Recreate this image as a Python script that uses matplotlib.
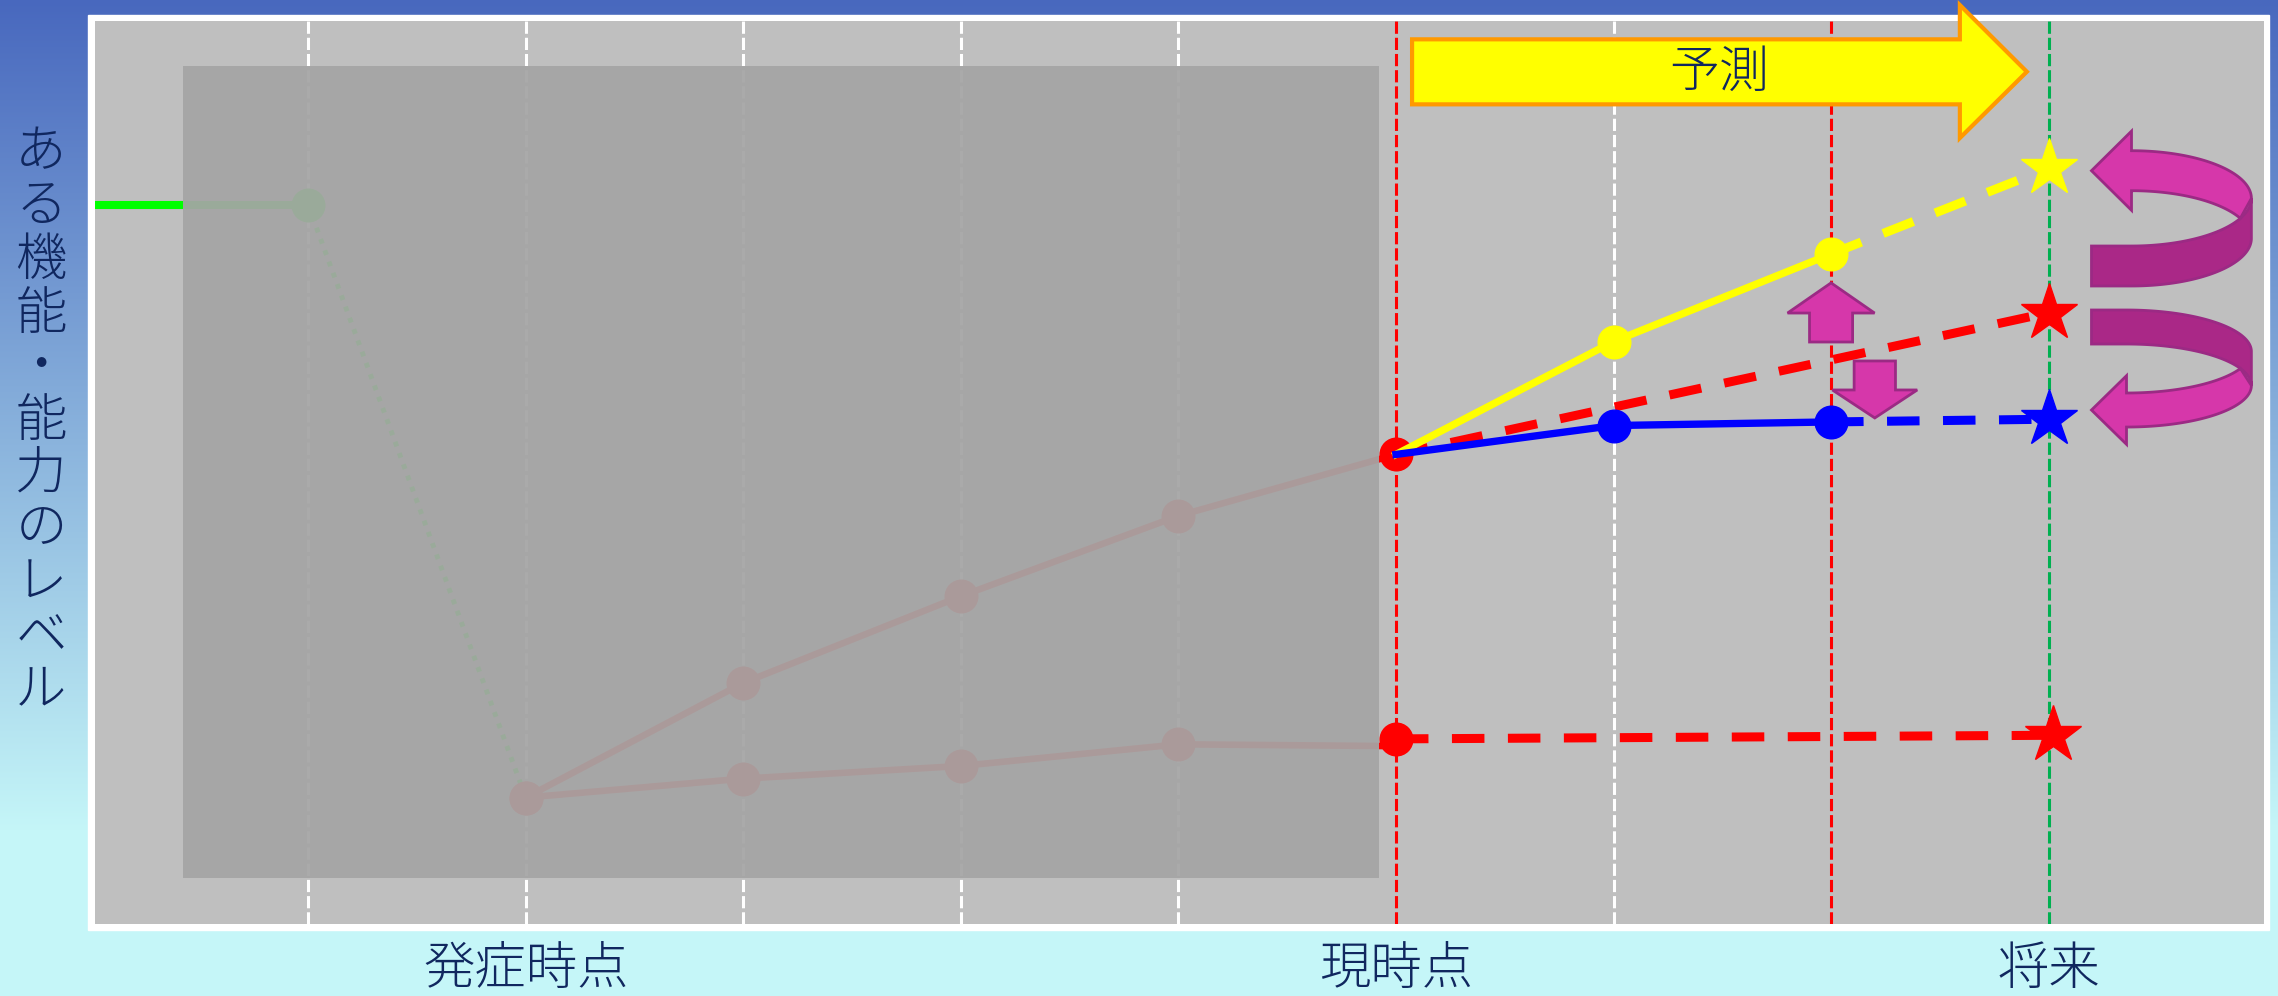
import numpy as np
import matplotlib
matplotlib.use('Agg')
import matplotlib.pyplot as plt
from matplotlib.patches import Polygon, Rectangle

plt.rcParams['font.family'] = ['Noto Sans CJK JP', 'DejaVu Sans']

NAVY = '#10275f'
PINK = '#d637aa'
PINK_DARK = '#aa2887'
PINK_EDGE = '#9b2a84'

# ---- data (level of function, 0-100) ----
stage_x = [1, 2, 3, 4, 5, 6, 7, 8, 9]
grid_colors = ['white', 'white', 'white', 'white', 'white', 'red', 'white', 'red', '#00b050']
tick_pos = [2, 6, 9]
tick_labels = ['発症時点', '現時点', '将来']
ylabel = 'ある機能・能力のレベル'

before_x = [0.02, 1]
before_y = [79.6, 79.6]
drop_x = [1, 2]
drop_y = [79.6, 14.0]
good_past_x = [2, 3, 4, 5, 6]
good_past_y = [14.0, 26.7, 36.3, 45.2, 52.0]
poor_past_x = [2, 3, 4, 5, 6]
poor_past_y = [14.0, 16.1, 17.5, 19.9, 19.7]

now_x = 6
now_good = 52.0
now_poor = 20.5
yellow_x = [6, 7, 8]
yellow_y = [52.0, 64.5, 74.2]
blue_x = [6, 7, 8]
blue_y = [52.0, 55.2, 55.6]
future_x = 9
yellow_star = 83.7
red_star_up = 67.7
blue_star = 55.9
red_star_low = 20.9

W, H = 2278, 996
fig = plt.figure(figsize=(W / 100, H / 100), dpi=100)

# background gradient + white frame
bg = fig.add_axes([0, 0, 1, 1])
top_c = np.array([72, 104, 190]) / 255
bot_c = np.array([197, 246, 248]) / 255
t = np.clip(np.arange(H) / 830, 0, 1)[:, None]
grad = top_c + (bot_c - top_c) * t
bg.imshow(np.repeat(grad[:, None, :], 2, axis=1), aspect='auto', extent=(0, W, H, 0))
bg.set_xlim(0, W)
bg.set_ylim(H, 0)
bg.axis('off')
bg.add_patch(Rectangle((88, 15), 2181, 915, color='white'))

ax = fig.add_axes([95 / W, (H - 924) / H, (2264 - 95) / W, (924 - 21) / H])
ax.set_facecolor('#bfbfbf')
ax.set_xlim(0.02, 9.99)
ax.set_ylim(0, 100)
for s in ax.spines.values():
    s.set_visible(False)
ax.set_yticks([])
ax.set_xticks(tick_pos, tick_labels, fontsize=37, color=NAVY, fontweight='light')
ax.tick_params(axis='x', length=0, pad=14)

# vertical dashed guides
for x, c in zip(stage_x, grid_colors):
    ax.axvline(x, color=c, lw=2.2, dashes=(4, 1.3), zorder=1)

# past course (later shaded)
ax.plot(before_x, before_y, color='#00ff00', lw=5.8, zorder=2, solid_capstyle='butt')
ax.plot([1], [before_y[1]], 'o', color='#00ff00', ms=23.5, zorder=2)
ax.plot(drop_x, drop_y, color='#00ff00', lw=3.6, dashes=(1, 1.4), zorder=2)
ax.plot(good_past_x, good_past_y, color='red', lw=4.8, marker='o', ms=23.5,
        markevery=[0, 1, 2, 3], zorder=2)
ax.plot(poor_past_x, poor_past_y, color='red', lw=4.8, marker='o', ms=23.5,
        markevery=[0, 1, 2, 3], zorder=2)

# shading box over the past
ax.add_patch(Rectangle((0.426, 5.1), 5.922 - 0.426, 95.0 - 5.1, facecolor='#a5a5a5',
                       alpha=0.94, edgecolor='none', zorder=3))

# current points and predictions
ax.plot([now_x, now_x], [now_good, now_poor], 'o', color='red', ms=23.5, ls='none', zorder=4)
ax.plot([now_x, future_x], [now_good, red_star_up], color='red', lw=6.5, dashes=(3.6, 2.6), zorder=5)
ax.plot([now_x, future_x + 0.02], [now_poor, red_star_low], color='red', lw=6.5,
        dashes=(3.6, 2.6), zorder=5)
ax.plot(yellow_x, yellow_y, color='yellow', lw=5.3, marker='o', ms=23.5, markevery=[1, 2], zorder=6)
ax.plot([yellow_x[-1], future_x], [yellow_y[-1], yellow_star], color='yellow', lw=6.5,
        dashes=(3.6, 2.6), zorder=6)
ax.plot(blue_x, blue_y, color='blue', lw=5.3, marker='o', ms=23.5, markevery=[1, 2], zorder=7)
ax.plot([blue_x[-1], future_x], [blue_y[-1], blue_star], color='blue', lw=6.5,
        dashes=(3.6, 2.6), zorder=7)
ax.plot([future_x], [yellow_star], '*', color='yellow', ms=43, zorder=8)
ax.plot([future_x], [red_star_up], '*', color='red', ms=43, zorder=8)
ax.plot([future_x], [blue_star], '*', color='blue', ms=43, zorder=8)
ax.plot([future_x + 0.02], [red_star_low], '*', color='red', ms=43, zorder=8)

# big "予測" arrow
pred = [(6.074, 97.97), (8.592, 97.97), (8.592, 101.77), (8.9, 94.38),
        (8.592, 87.04), (8.592, 90.77), (6.074, 90.77)]
ax.add_patch(Polygon(pred, closed=True, facecolor='yellow', edgecolor='#ff9900', lw=3,
                     clip_on=False, zorder=9))
ax.text(7.485, 94.2, '予測', fontsize=36, color=NAVY, ha='center', va='center',
        fontweight='light', zorder=10)


# small up / down block arrows
def block_arrow(xc, y_tail, y_base, y_tip, shaft_hw, head_hw):
    pts = [(xc - shaft_hw, y_tail), (xc - shaft_hw, y_base), (xc - head_hw, y_base),
           (xc, y_tip), (xc + head_hw, y_base), (xc + shaft_hw, y_base), (xc + shaft_hw, y_tail)]
    ax.add_patch(Polygon(pts, closed=True, facecolor=PINK, edgecolor=PINK_EDGE, lw=2, zorder=9))


block_arrow(8.0, 64.45, 67.66, 71.0, 0.099, 0.2)
block_arrow(8.201, 62.35, 59.14, 56.04, 0.095, 0.195)


# U-turn ribbon arrows
def arc(cx, cy, a, b, t0, t1, dy=0.0, n=80):
    th = np.radians(np.linspace(t0, t1, n))
    return np.column_stack([cx + a * np.cos(th), cy + b * np.sin(th) + dy])


def u_turn(cx, cy, a, b, h, hh, hl, tail, head_top):
    tc = np.degrees(np.arcsin(h / (2 * b)))
    if head_top:
        mid = cy + b - h / 2
        head = np.array([(cx, mid + hh), (cx - hl, mid), (cx, mid - hh)])
        front = np.vstack([head, arc(cx, cy, a, b, 90, tc, -h), [(cx + a, cy)],
                           arc(cx, cy, a, b, 0, 90)])
        back = np.vstack([arc(cx, cy, a, b, 0, -90), [(tail, cy - b), (tail, cy - b - h)],
                          arc(cx, cy, a, b, -90, 0, -h)])
    else:
        mid = cy - b - h / 2
        head = np.array([(cx, mid + hh), (cx - hl, mid), (cx, mid - hh)])
        front = np.vstack([head, arc(cx, cy, a, b, -90, 0, -h),
                           arc(cx, cy, a, b, -tc, -90)])
        back = np.vstack([arc(cx, cy, a, b, 0, 90), [(tail, cy + b), (tail, cy + b - h)],
                          arc(cx, cy, a, b, 90, 0, -h)])
    ax.add_patch(Polygon(back, closed=True, facecolor=PINK_DARK, edgecolor=PINK_EDGE, lw=2, zorder=9))
    ax.add_patch(Polygon(front, closed=True, facecolor=PINK, edgecolor=PINK_EDGE, lw=2, zorder=10))


u_turn(9.381, 80.36, 0.551, 5.277, 4.43, 4.385, 0.184, 9.197, True)
u_turn(9.358, 63.40, 0.574, 4.596, 3.77, 3.80, 0.161, 9.197, False)

# vertical (stacked) y label
for i, ch in enumerate(ylabel):
    ax.text(-0.0249, 0.854 - i * 0.0595, ch, transform=ax.transAxes, fontsize=37,
            color=NAVY, ha='center', va='center', fontweight='light', clip_on=False)

fig.savefig('out.png', dpi=100)
